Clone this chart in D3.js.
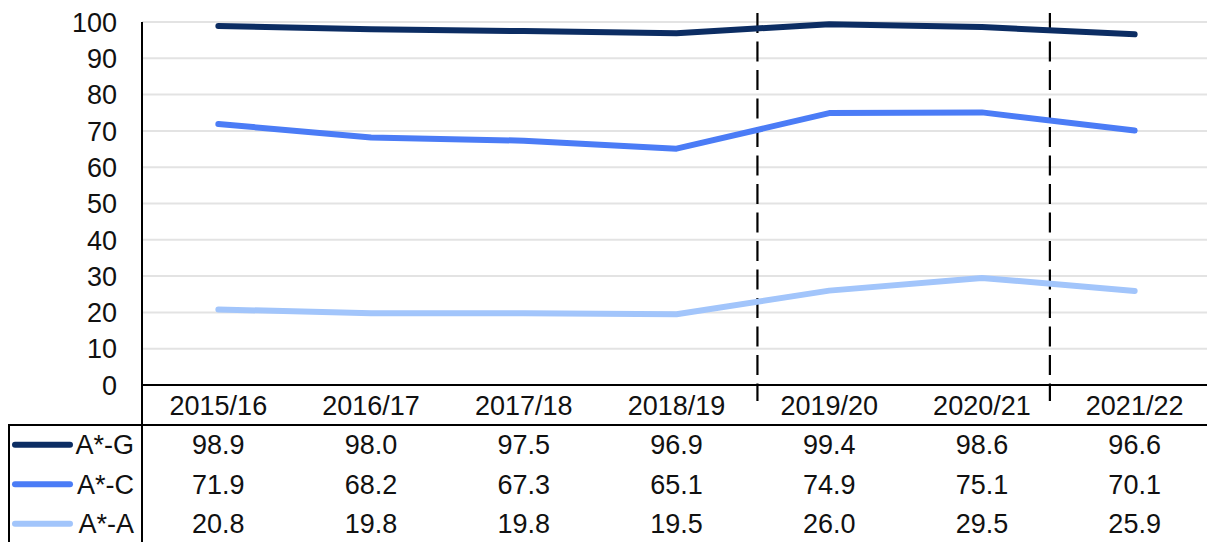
<!DOCTYPE html>
<html>
<head>
<meta charset="utf-8">
<script src="https://cdn.jsdelivr.net/npm/d3@7"></script>
<style>
  body { margin: 0; background: #fff; }
  svg { display: block; font-family: "Liberation Sans", Arial, sans-serif; }
</style>
</head>
<body>
<div id="chart"></div>
<script>
// chart data
const years = ['2015/16', '2016/17', '2017/18', '2018/19', '2019/20', '2020/21', '2021/22'];
const seriesNames = ['A*-G', 'A*-C', 'A*-A'];
const gradeAG = [98.9, 98.0, 97.5, 96.9, 99.4, 98.6, 96.6];
const gradeAC = [71.9, 68.2, 67.3, 65.1, 74.9, 75.1, 70.1];
const gradeAA = [20.8, 19.8, 19.8, 19.5, 26.0, 29.5, 25.9];
const yTicks = [0, 10, 20, 30, 40, 50, 60, 70, 80, 90, 100];
// dashed dividers, in category-step units from the axis
const dividerAt = [4.03, 5.945];

const series = [
  { name: seriesNames[0], values: gradeAG, color: '#0c2d63' },
  { name: seriesNames[1], values: gradeAC, color: '#4b7cf6' },
  { name: seriesNames[2], values: gradeAA, color: '#a2c5fb' }
];

const width = 1207, height = 542;
const plotL = 142, plotR = 1211, plotT = 22, plotB = 385;
const rowH = 39.5, headerBottom = 425;
const fs = 27;

const svg = d3.select('#chart').append('svg')
  .attr('width', width).attr('height', height);

const x = d3.scalePoint().domain(years).range([plotL, plotR]).padding(0.5);
const y = d3.scaleLinear().domain([0, 100]).range([plotB, plotT]);
const step = x.step();

// gridlines
svg.append('g').selectAll('line')
  .data(yTicks.filter(d => d > 0))
  .join('line')
  .attr('x1', plotL).attr('x2', width)
  .attr('y1', d => y(d)).attr('y2', d => y(d))
  .attr('stroke', '#e3e3e3').attr('stroke-width', 2);

// y labels
svg.append('g').selectAll('text')
  .data(yTicks)
  .join('text')
  .attr('x', 117).attr('y', d => y(d))
  .attr('dy', '0.36em')
  .attr('text-anchor', 'end')
  .attr('font-size', fs)
  .attr('fill', '#111')
  .text(d => d);

// dashed dividers
svg.append('g').selectAll('line')
  .data(dividerAt)
  .join('line')
  .attr('x1', d => plotL + d * step).attr('x2', d => plotL + d * step)
  .attr('y1', 13).attr('y2', plotB)
  .attr('stroke', '#000').attr('stroke-width', 2.2)
  .attr('stroke-dasharray', '20 8.5');

svg.append('g').selectAll('line')
  .data(dividerAt)
  .join('line')
  .attr('x1', d => plotL + d * step).attr('x2', d => plotL + d * step)
  .attr('y1', plotB).attr('y2', plotB + 16)
  .attr('stroke', '#000').attr('stroke-width', 2.2);

// lines
const line = d3.line()
  .x((d, i) => x(years[i]))
  .y(d => y(d));

svg.append('g').selectAll('path')
  .data(series)
  .join('path')
  .attr('d', d => line(d.values))
  .attr('fill', 'none')
  .attr('stroke', d => d.color)
  .attr('stroke-width', 6)
  .attr('stroke-linecap', 'round')
  .attr('stroke-linejoin', 'round');

// table borders
const g = svg.append('g').attr('stroke', '#000').attr('stroke-width', 2);
g.append('line').attr('x1', plotL).attr('x2', plotL).attr('y1', plotT).attr('y2', height);
g.append('line').attr('x1', plotL).attr('x2', width).attr('y1', plotB).attr('y2', plotB);
g.append('line').attr('x1', 8).attr('x2', width).attr('y1', headerBottom).attr('y2', headerBottom);
g.append('line').attr('x1', 9).attr('x2', 9).attr('y1', headerBottom).attr('y2', height);

// header labels
svg.append('g').selectAll('text')
  .data(years)
  .join('text')
  .attr('x', d => x(d))
  .attr('y', (plotB + headerBottom) / 2)
  .attr('dy', '0.36em')
  .attr('text-anchor', 'middle')
  .attr('font-size', fs)
  .attr('fill', '#111')
  .text(d => d);

// table rows
const rows = svg.append('g').selectAll('g')
  .data(series)
  .join('g')
  .attr('transform', (d, i) => `translate(0,${headerBottom + rowH * (i + 0.5)})`);

rows.append('line')
  .attr('x1', 15).attr('x2', 70)
  .attr('stroke', d => d.color)
  .attr('stroke-width', 6)
  .attr('stroke-linecap', 'round');

rows.append('text')
  .attr('x', 134)
  .attr('dy', '0.36em')
  .attr('text-anchor', 'end')
  .attr('font-size', fs)
  .attr('fill', '#111')
  .text(d => d.name);

rows.selectAll('text.v')
  .data(d => d.values)
  .join('text')
  .attr('class', 'v')
  .attr('x', (d, i) => x(years[i]))
  .attr('dy', '0.36em')
  .attr('text-anchor', 'middle')
  .attr('font-size', fs)
  .attr('fill', '#111')
  .text(d => d.toFixed(1));
</script>
</body>
</html>
